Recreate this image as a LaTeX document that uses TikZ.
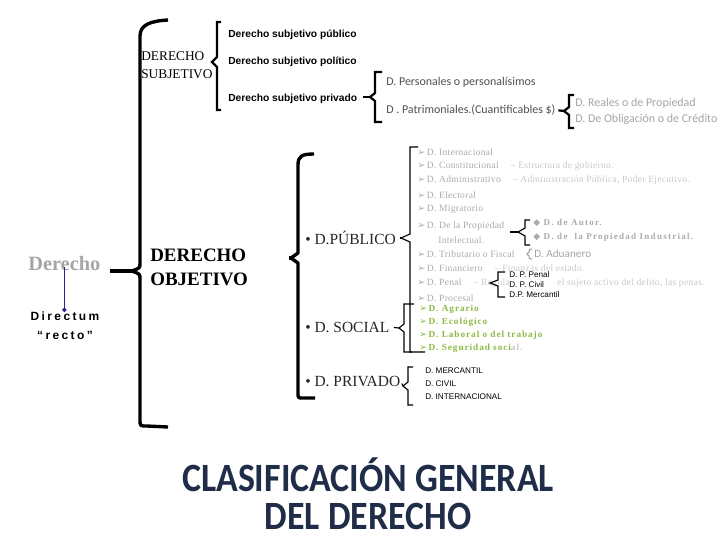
\documentclass[tikz,border=0pt]{standalone}
\usepackage{fontspec}
\setmainfont{Liberation Serif}
\setsansfont{Liberation Sans}
\newfontfamily\calibri{Carlito}
\newfontfamily\dejavu{DejaVu Sans}
\usetikzlibrary{positioning,arrows.meta}
\definecolor{grisclaro}{RGB}{165,165,165}
\definecolor{grispub}{RGB}{170,170,170}
\definecolor{grisdesc}{RGB}{200,200,200}
\definecolor{grisoscuro}{RGB}{80,80,80}
\definecolor{verdesocial}{RGB}{140,185,65}
\definecolor{azultitulo}{RGB}{31,45,72}
\definecolor{azulflecha}{RGB}{45,30,150}
\newcommand\flecha{{\dejavu\char"27A2}\,}
\newcommand\rombo{{\dejavu\char"25C6}\ }

\begin{document}
\begin{tikzpicture}[x=0.025cm,y=-0.025cm,
    llave/.style={line width=2.4pt, line join=round},
    llavemedia/.style={line width=1.6pt},
    llavefina/.style={line width=0.8pt},
    txt/.style={anchor=west, inner sep=0pt},
    subtxt/.style={txt, font=\sffamily\bfseries\fontsize{7.3}{8}\selectfont},
    calitxt/.style={txt, font=\calibri\fontsize{8.5}{10}\selectfont},
    pubtxt/.style={txt, text=grispub, font=\fontsize{6.8}{8}\selectfont\addfontfeature{LetterSpace=3}},
    soctxt/.style={txt, text=verdesocial, font=\bfseries\fontsize{6.6}{8}\selectfont\addfontfeature{LetterSpace=10}},
    ramatxt/.style={txt, font=\fontsize{11}{13}\selectfont, text=black!85},
    negrita/.style={txt, font=\sffamily\fontsize{5.8}{7}\selectfont},
    titulo/.style={text=azultitulo, font=\calibri\bfseries\fontsize{25.5}{30}\selectfont, inner sep=0pt}]

\useasboundingbox (0,0) rectangle (720,540);

\node[txt, text=grisclaro, font=\bfseries\fontsize{14.5}{16}\selectfont] (derecho) at (28,264) {Derecho};
\node[anchor=north, inner sep=0pt, font=\sffamily\bfseries\fontsize{8.5}{13}\selectfont\addfontfeature{LetterSpace=20}, align=center] (directum) at (65,312) {Directum\\“recto”};
\draw[azulflecha, line width=1pt, -{Circle[length=3pt]}] (derecho.south) ++(0,-4) coordinate (derBase) -- (derBase |- directum.north);

\coordinate (puntaDer) at (132,271);
\draw[llave] (168,20) .. controls (150,21) and (140,25) .. (140,36) -- (140,263) .. controls (140,268) .. (puntaDer) .. controls (140,274) .. (140,279) -- (140,420) .. controls (140,426) .. (147,426) -- (168,427);
\draw[llave, shorten <=7pt] (derecho.east |- puntaDer) -- (puntaDer);

\node[txt, align=left, font=\fontsize{9.5}{12.5}\selectfont] (subjetivo) at (141,65) {DERECHO\\SUBJETIVO};
\draw[llavemedia] (221,22) -- (217,22) -- (217,57) -- (212,62) -- (217,67) -- (217,110) -- (221,110);
\node[subtxt] (sp1) at (228,35) {Derecho subjetivo público};
\node[subtxt] (sp2) at (228,62) {Derecho subjetivo político};
\node[subtxt] (sp3) at (228,99) {Derecho subjetivo privado};

\coordinate (puntaPriv) at (370,97);
\draw[llavemedia, shorten <=4pt] (sp3.east |- puntaPriv) -- (puntaPriv);
\draw[llavemedia] (382,72) -- (375,72) -- (375,93) -- (puntaPriv) -- (375,101) -- (375,122) -- (382,122);
\node[calitxt, text=grisoscuro] (pe1) at (386,82) {D. Personales o personalísimos};
\node[calitxt, text=grisoscuro] (pe2) at (386,110) {D . Patrimoniales.(Cuantificables \$)};

\coordinate (puntaPat) at (564,111);
\draw[llavemedia, shorten <=2pt] (pe2.east) -- (puntaPat);
\draw[llavemedia] (574,95) -- (569,95) -- (569,107) -- (puntaPat) -- (569,115) -- (569,128) -- (574,128);
\node[calitxt, text=grisclaro] (pa1) at (575,103) {D. Reales o de Propiedad};
\node[calitxt, text=grisclaro] (pa2) at (575,119) {D. De Obligación o de Crédito};

\node[txt, align=left, font=\bfseries\fontsize{13.5}{17}\selectfont] (objetivo) at (150,267) {DERECHO\\OBJETIVO};
\coordinate (puntaObj) at (291,258);
\draw[llave] (314,154) .. controls (302,154) and (298,156) .. (298,165) -- (298,253) -- (puntaObj) -- (298,263) -- (298,393) .. controls (298,398) .. (303,398) -- (315,398);
\draw[llave, shorten <=29pt] (objetivo.east |- puntaObj) -- (puntaObj);

\node[ramatxt] (publico) at (305,238) {• D.PÚBLICO};
\node[ramatxt] (social) at (305,327) {• D. SOCIAL};
\node[ramatxt] (privado) at (305,381) {• D. PRIVADO};

\coordinate (puntaPub) at (401,238);
\draw[llavefina] (418,147) -- (410,147) -- (410,234) -- (puntaPub) -- (410,242) -- (410,352) -- (425,352);
\draw[llavefina, shorten <=3pt] (publico.east) -- (puntaPub);

\foreach \i/\yy/\t in {1/152/{D. Internacional},
    2/166/{D. Constitucional \quad\textcolor{grisdesc}{– Estructura de gobierno.}},
    3/180/{D. Administrativo \quad\textcolor{grisdesc}{– Administración Pública, Poder Ejecutivo.}},
    4/195/{D. Electoral},
    5/209/{D. Migratorio},
    6/226/{D. De la Propiedad},
    7/254/{D. Tributario o Fiscal},
    8/268/{D. Financiero \quad\textcolor{grisdesc}{– Finanzas del estado.}},
    9/283/{D. Penal \quad\textcolor{grisdesc}{– Regula}},
    10/298/{D. Procesal}}
  \node[pubtxt] (pub\i) at (417,\yy) {\flecha\t};
\node[pubtxt] (pub6b) at (438,240) {Intelectual.};
\node[pubtxt, text=grisdesc] (pub9b) at (557,283) {el sujeto activo del delito, las penas.};

\coordinate (puntaProp) at (518,232);
\draw[llavefina] (530,220) -- (525,220) -- (525,228) -- (puntaProp) -- (525,236) -- (525,245) -- (530,245);
\draw[llavefina, shorten <=4pt] (pub6.east |- puntaProp) -- (puntaProp);
\node[pubtxt, font=\bfseries\fontsize{6.4}{8}\selectfont\addfontfeature{LetterSpace=14}] (aut1) at (533,223) {\rombo D. de Autor.};
\node[pubtxt, font=\bfseries\fontsize{6.4}{8}\selectfont\addfontfeature{LetterSpace=14}] (aut2) at (533,237) {\rombo D. de \ la Propiedad Industrial.};

\coordinate (puntaTri) at (527,254);
\draw[llavefina, grisclaro] (532,249) .. controls (529,249) .. (529,252) -- (puntaTri) -- (529,256) .. controls (529,259) .. (532,259);
\node[calitxt, text=grisclaro, font=\calibri\fontsize{8}{9}\selectfont] (adu) at (534,254) {D. Aduanero};

\coordinate (puntaPro) at (490,283);
\draw[llavefina] (505,272) -- (498,272) -- (498,280) -- (puntaPro) -- (498,286) -- (498,297) -- (505,297);
\node[negrita] (pp1) at (509,275) {D. P. Penal};
\node[negrita] (pp2) at (509,285) {D. P. Civil};
\node[negrita] (pp3) at (509,295) {D.P. Mercantil};

\coordinate (puntaSoc) at (399,328);
\draw[llavefina] (414,304) -- (404,304) -- (404,324) -- (puntaSoc) -- (404,332) -- (404,352) -- (412,352);
\draw[llavefina, shorten <=3pt] (social.east) -- (puntaSoc);
\node[soctxt] (so1) at (419,309) {\flecha D. Agrario};
\node[soctxt] (so2) at (419,322) {\flecha D. Ecológico};
\node[soctxt] (so3) at (419,335) {\flecha D. Laboral o del trabajo};
\node[soctxt] (so4) at (419,348) {\flecha D. Seguridad soci\textcolor{grisdesc}{al.}};

\coordinate (puntaPri) at (403,386);
\draw[llavefina] (413,367) -- (408,367) -- (408,382) -- (puntaPri) -- (408,390) -- (408,405) -- (413,405);
\draw[llavefina, shorten <=2pt] (privado.east) -- (puntaPri);
\node[negrita] (pr1) at (425,371) {D. MERCANTIL};
\node[negrita] (pr2) at (425,384) {D. CIVIL};
\node[negrita] (pr3) at (425,397) {D. INTERNACIONAL};

\node[titulo] (tit1) at (368,475) {\scalebox{1}[1.12]{CLASIFICACIÓN GENERAL}};
\node[titulo] (tit2) at (368,516) {\scalebox{1}[1.12]{DEL DERECHO}};
\end{tikzpicture}
\end{document}
